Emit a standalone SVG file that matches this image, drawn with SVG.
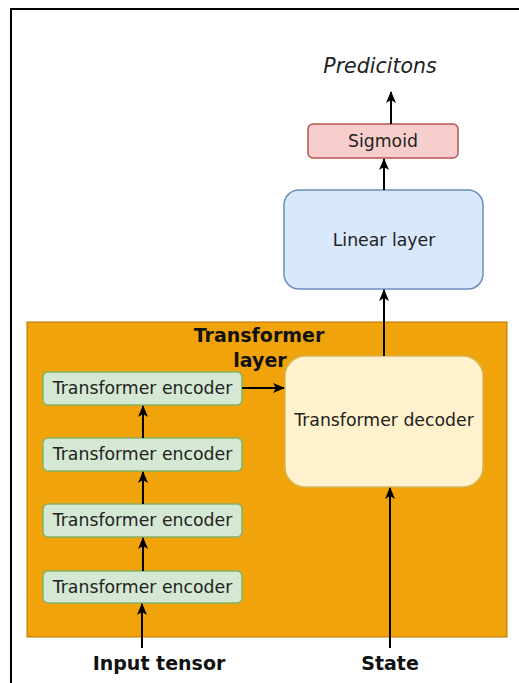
<svg xmlns="http://www.w3.org/2000/svg" width="519" height="683" viewBox="0 0 519 683">
<style>
.t{font-family:"DejaVu Sans",sans-serif;fill:#222;text-anchor:middle}
.n{font-size:17.3px}
.b{font-size:19px;font-weight:bold;fill:#111}
.enc{fill:#d5e8d4;stroke:#82b366;stroke-width:1.5}
.c{stroke:#000;stroke-width:2;fill:none;marker-end:url(#ah)}
</style>
<defs>
<marker id="ah" markerUnits="userSpaceOnUse" viewBox="0 0 12 12" refX="11" refY="6" markerWidth="12" markerHeight="12" orient="auto">
<path d="M0,1 L12,6 L0,11 L3,6 z" fill="#000"/>
</marker>
</defs>
<rect x="11" y="9" width="530" height="700" fill="#fff" stroke="#000" stroke-width="2"/>
<g id="container">
<rect x="27" y="322" width="480" height="315" fill="#f0a30a" stroke="#bd7000" stroke-width="1"/>
<text class="t b" x="259" y="342">Transformer</text>
<text class="t b" x="260" y="367">layer</text>
</g>
<g id="predictions"><text class="t" x="380" y="73" style="font-size:20.5px;font-style:italic">Predicitons</text></g>
<g id="sigmoid"><rect x="308" y="124" width="150" height="34" rx="5" fill="#f8cecc" stroke="#b85450" stroke-width="1.5"/><text class="t n" x="383" y="147">Sigmoid</text></g>
<g id="linear"><rect x="284" y="190" width="199" height="99" rx="15" fill="#dae8fc" stroke="#6c8ebf" stroke-width="1.5"/><text class="t n" x="384" y="245.5">Linear layer</text></g>
<g id="decoder"><rect x="285" y="356" width="198" height="131" rx="20" fill="#fff2cc" stroke="#d6b656" stroke-width="1.5"/><text class="t n" x="384" y="426">Transformer decoder</text></g>
<g id="enc1"><rect class="enc" x="43" y="372" width="199" height="33" rx="5"/><text class="t n" x="142.5" y="394">Transformer encoder</text></g>
<g id="enc2"><rect class="enc" x="43" y="438" width="199" height="33" rx="5"/><text class="t n" x="142.5" y="460">Transformer encoder</text></g>
<g id="enc3"><rect class="enc" x="43" y="504" width="199" height="33" rx="5"/><text class="t n" x="142.5" y="526">Transformer encoder</text></g>
<g id="enc4"><rect class="enc" x="43" y="571" width="199" height="32" rx="5"/><text class="t n" x="142.5" y="593">Transformer encoder</text></g>
<g id="input"><text class="t b" x="159" y="670">Input tensor</text></g>
<g id="state"><text class="t b" x="390" y="670">State</text></g>
<g id="connectors">
<line class="c" x1="391" y1="124" x2="391" y2="92"/>
<line class="c" x1="384" y1="190" x2="384" y2="159"/>
<line class="c" x1="384" y1="356" x2="384" y2="290"/>
<line class="c" x1="390" y1="648" x2="390" y2="488"/>
<line class="c" x1="142" y1="648" x2="142" y2="604"/>
<line class="c" x1="143" y1="571" x2="143" y2="538"/>
<line class="c" x1="143" y1="504" x2="143" y2="472"/>
<line class="c" x1="143" y1="438" x2="143" y2="406"/>
<line class="c" x1="242" y1="388" x2="284" y2="388"/>
</g>
</svg>
